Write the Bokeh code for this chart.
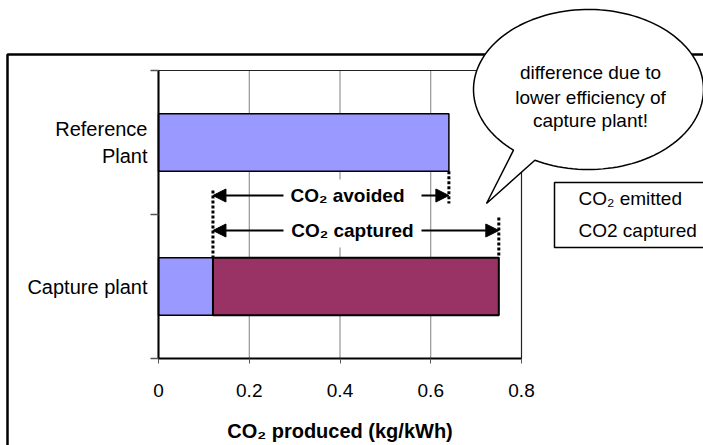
import numpy as np
from bokeh.plotting import figure
from bokeh.models import (Range1d, FixedTicker, Label, Arrow, NormalHead, PolyAnnotation)
from bokeh.embed import file_html
from bokeh.resources import INLINE

# ---- data ----
categories = ["Reference\nPlant", "Capture plant"]
co2_emitted = [0.64, 0.12]
co2_captured = [0.0, 0.63]
x_ticks = [0, 0.2, 0.4, 0.6, 0.8]
x_tick_labels = ["0", "0.2", "0.4", "0.6", "0.8"]
legend_labels = ["CO\u2082 emitted", "CO2 captured"]
balloon_lines = ["difference due to", "lower efficiency of", "capture plant!"]

FONT = "Liberation Sans"
C_EMIT = "#9999FF"
C_CAPT = "#993366"

W, H = 703, 445
# plot-area placement on the canvas (pixels)
PX_L, PX_R, PY_T, PY_B = 158.0, 521.0, 70.0, 358.0
X_MIN, X_MAX = x_ticks[0], x_ticks[-1]
N_CAT = len(categories)
FXS = (PX_R - PX_L) / (X_MAX - X_MIN)
FYS = (PY_B - PY_T) / N_CAT

ys = [i + 0.5 for i in range(N_CAT)]
bar_h = 0.4

x_range = Range1d(X_MIN - PX_L / FXS, X_MIN + (W - PX_L) / FXS)
y_range = Range1d((H - PY_T) / FYS, -PY_T / FYS)

p = figure(width=W, height=H, x_range=x_range, y_range=y_range,
           output_backend="svg", toolbar_location=None,
           min_border_left=0, min_border_right=0, min_border_top=0, min_border_bottom=0)
p.background_fill_color = "white"
p.border_fill_color = "white"
p.outline_line_color = None
p.grid.visible = False

def dx(px):
    return X_MIN + (px - PX_L) / FXS
def dy(py):
    return (py - PY_T) / FYS

# grid lines inside the plot area
p.segment(x0=x_ticks[1:-1], x1=x_ticks[1:-1], y0=0, y1=N_CAT,
          line_color="#808080", line_width=1)
# plot-area border
p.quad(left=X_MIN, right=X_MAX, top=0, bottom=N_CAT, fill_alpha=0,
       line_color="#222222", line_width=1.2)

# x axis
p.xaxis.fixed_location = N_CAT
p.xaxis.bounds = (X_MIN, X_MAX)
p.xaxis.ticker = FixedTicker(ticks=x_ticks)
p.xaxis.major_label_overrides = {k: v for k, v in zip(x_ticks, x_tick_labels)}
p.xaxis.axis_line_width = 2
p.xaxis.axis_line_color = "black"
p.xaxis.major_tick_out = 5
p.xaxis.major_tick_in = 0
p.xaxis.major_tick_line_color = "#555555"
p.xaxis.minor_tick_line_color = None
p.xaxis.major_label_text_font = FONT
p.xaxis.major_label_text_font_size = "19px"
p.xaxis.major_label_text_color = "black"
p.xaxis.major_label_standoff = 20
p.xaxis.axis_label = "CO\u2082 produced (kg/kWh)"
p.xaxis.axis_label_text_font = FONT
p.xaxis.axis_label_text_font_size = "20px"
p.xaxis.axis_label_text_font_style = "bold"
p.xaxis.axis_label_text_color = "black"
p.xaxis.axis_label_standoff = 20

# y axis (category boundaries as minor ticks)
p.yaxis.fixed_location = X_MIN
p.yaxis.bounds = (0, N_CAT)
p.yaxis.ticker = FixedTicker(ticks=ys, minor_ticks=list(range(N_CAT + 1)))
p.yaxis.major_label_overrides = {y: c for y, c in zip(ys, categories)}
p.yaxis.axis_line_width = 2
p.yaxis.axis_line_color = "black"
p.yaxis.major_tick_line_color = None
p.yaxis.major_tick_out = 0
p.yaxis.major_tick_in = 0
p.yaxis.minor_tick_out = 8
p.yaxis.minor_tick_in = 0
p.yaxis.minor_tick_line_color = "#555555"
p.yaxis.minor_tick_line_width = 1.5
p.yaxis.major_label_text_font = FONT
p.yaxis.major_label_text_font_size = "20px"
p.yaxis.major_label_text_color = "black"
p.yaxis.major_label_standoff = 3

# bars
p.hbar(y=ys, left=0, right=co2_emitted, height=bar_h, fill_color=C_EMIT,
       line_color="black", line_width=1.5)
cap_y = [y for y, c in zip(ys, co2_captured) if c > 0]
cap_l = [e for e, c in zip(co2_emitted, co2_captured) if c > 0]
cap_r = [e + c for e, c in zip(co2_emitted, co2_captured) if c > 0]
p.hbar(y=cap_y, left=cap_l, right=cap_r, height=bar_h, fill_color=C_CAPT,
       line_color="black", line_width=2)

ref_total = co2_emitted[0] + co2_captured[0]
cap_emit = co2_emitted[1]
cap_total = co2_emitted[1] + co2_captured[1]
ref_bottom = ys[0] + bar_h / 2
cap_top = ys[1] - bar_h / 2

# dotted guide lines
p.segment(x0=[cap_emit, ref_total, cap_total], x1=[cap_emit, ref_total, cap_total],
          y0=[dy(190), ref_bottom, dy(217)], y1=[cap_top, dy(203), cap_top],
          line_color="black", line_width=3, line_dash="3 2")

# outer frame
p.add_layout(PolyAnnotation(xs=[dx(7), dx(7), dx(720), dx(720)],
                            ys=[dy(470), dy(54), dy(54), dy(470)],
                            fill_alpha=0, line_color="black", line_alpha=1, line_width=2.5))

# arrows
y_av, y_cp = dy(195), dy(230)
for xs_, xe_, yy in [(cap_emit, ref_total, y_av), (cap_emit, cap_total, y_cp)]:
    p.add_layout(Arrow(x_start=xs_, y_start=yy, x_end=xe_, y_end=yy,
                       start=NormalHead(size=13, fill_color="black", line_color="black"),
                       end=NormalHead(size=13, fill_color="black", line_color="black"),
                       line_color="black", line_width=2))

# white block behind arrow labels
p.add_layout(PolyAnnotation(xs=[dx(283), dx(421), dx(421), dx(283)],
                            ys=[dy(179), dy(179), dy(247), dy(247)],
                            fill_color="white", fill_alpha=1, line_alpha=0))
for txt, px, py in [("CO\u2082 avoided", 347, 195), ("CO\u2082 captured", 352, 230)]:
    p.add_layout(Label(x=dx(px), y=dy(py), text=txt, text_align="center",
                       text_baseline="middle", text_font=FONT, text_font_size="19px",
                       text_font_style="bold", text_color="black"))

# legend box
p.add_layout(PolyAnnotation(xs=[dx(554), dx(712), dx(712), dx(554)],
                            ys=[dy(182), dy(182), dy(247), dy(247)],
                            fill_color="white", fill_alpha=1, line_color="black",
                            line_alpha=1, line_width=1.5))
for txt, py in zip(legend_labels, [198, 230]):
    p.add_layout(Label(x=dx(578), y=dy(py), text=txt, text_align="left",
                       text_baseline="middle", text_font=FONT, text_font_size="19px",
                       text_color="black"))

# speech balloon
cx, cy, rx, ry = 588.0, 89.0, 115.0, 80.0
a1, a2 = 117.8, 130.7
tip = (486.0, 203.0)
bx, by = [], []
for a in np.linspace(a2 - 360, a1, 140):
    r = np.deg2rad(a)
    bx.append(cx + rx * np.cos(r))
    by.append(cy + ry * np.sin(r))
bx.append(tip[0]); by.append(tip[1])
p.add_layout(PolyAnnotation(xs=[dx(v) for v in bx], ys=[dy(v) for v in by],
                            fill_color="white", fill_alpha=1, line_color="black",
                            line_alpha=1, line_width=1.5))
for txt, py in zip(balloon_lines, [72, 97, 120]):
    p.add_layout(Label(x=dx(590), y=dy(py), text=txt, text_align="center",
                       text_baseline="middle", text_font=FONT, text_font_size="19px",
                       text_color="black"))

open("out.html", "w").write(file_html(p, INLINE))
